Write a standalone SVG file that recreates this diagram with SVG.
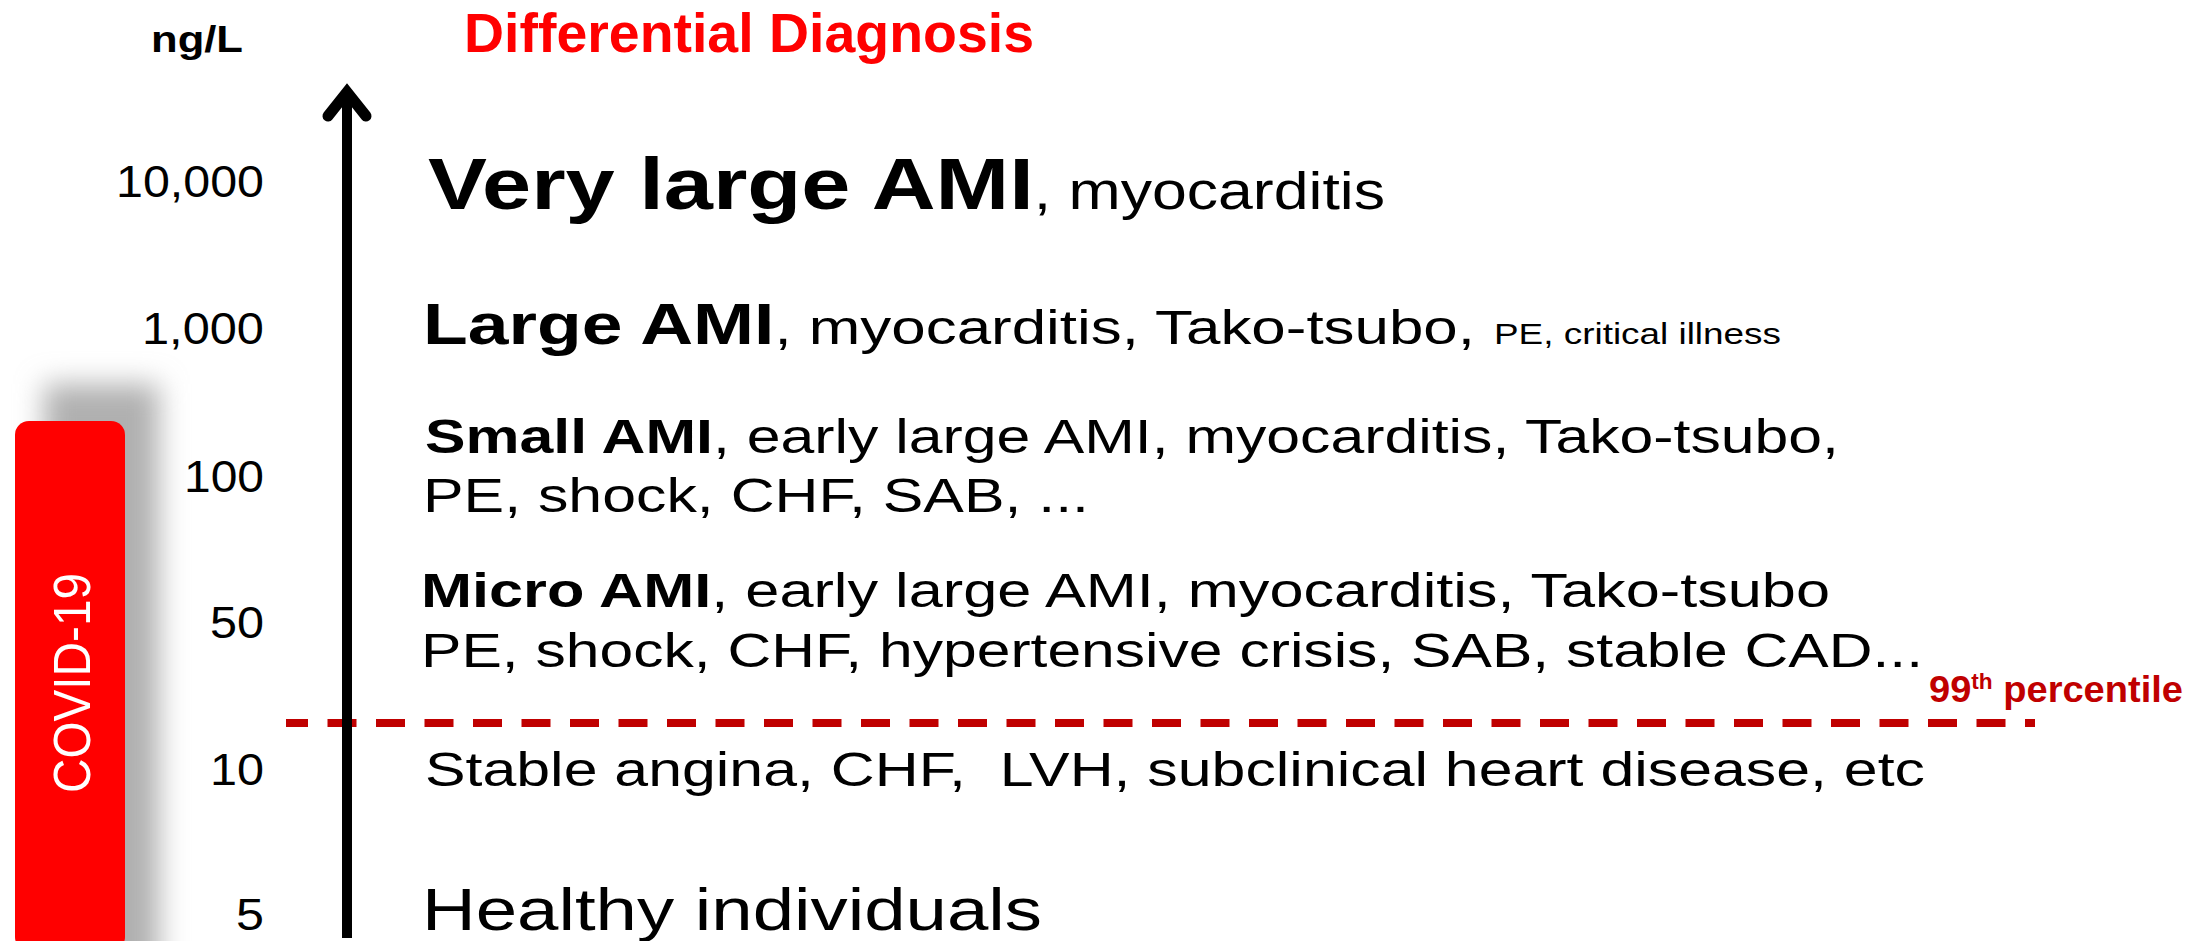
<svg xmlns="http://www.w3.org/2000/svg" width="2207" height="941" viewBox="0 0 2207 941">
<style>
.ax{font-family:"Liberation Sans",Arial,sans-serif;font-size:45px;fill:#000;text-anchor:end}
.row{font-family:"Liberation Sans",Arial,sans-serif;fill:#000}
.b{font-weight:bold}
.hd{font-family:"Liberation Sans",Arial,sans-serif;font-weight:bold}
</style>
<defs>
<filter id="sh" x="-60%" y="-30%" width="220%" height="160%">
<feGaussianBlur stdDeviation="14"/>
</filter>
</defs>
<rect width="2207" height="941" fill="#fff"/>

<g id="header">
<text class="hd" x="151" y="52" font-size="37" textLength="92" lengthAdjust="spacingAndGlyphs" fill="#000">ng/L</text>
<text class="hd" x="464" y="52" font-size="55" textLength="570" lengthAdjust="spacingAndGlyphs" fill="#FF0000">Differential Diagnosis</text>
</g>

<g id="covid-bar">
<rect x="44" y="384" width="115" height="600" fill="#b0b0b0" filter="url(#sh)"/>
<rect x="15" y="421" width="110" height="530" rx="14" ry="14" fill="#FF0000"/>
<text transform="translate(90,793) rotate(-90) scale(1,1.08)" x="0" y="0" font-family="Liberation Sans, Arial, sans-serif" font-size="48" fill="#fff" textLength="220" lengthAdjust="spacingAndGlyphs">COVID-19</text>
</g>

<g id="axis-labels">
<text class="ax" x="264" y="197" textLength="148" lengthAdjust="spacingAndGlyphs">10,000</text>
<text class="ax" x="264" y="344" textLength="122" lengthAdjust="spacingAndGlyphs">1,000</text>
<text class="ax" x="264" y="492" textLength="80" lengthAdjust="spacingAndGlyphs">100</text>
<text class="ax" x="264" y="638" textLength="54" lengthAdjust="spacingAndGlyphs">50</text>
<text class="ax" x="264" y="785" textLength="54" lengthAdjust="spacingAndGlyphs">10</text>
<text class="ax" x="264" y="930" textLength="28" lengthAdjust="spacingAndGlyphs">5</text>
</g>

<g id="connectors">
<line id="percentile-line" x1="286" y1="723" x2="2035" y2="723" stroke="#C00000" stroke-width="8" stroke-dasharray="29 19.5" stroke-dashoffset="7"/>
<g id="axis-arrow" stroke="#000" fill="none">
<line x1="347" y1="100" x2="347" y2="938" stroke-width="10"/>
<polyline points="328,116 347,92 366,116" stroke-width="11" stroke-linecap="round" stroke-linejoin="miter" stroke-miterlimit="10"/>
</g>
</g>

<g id="row-10000">
<text class="row" x="428" y="209" textLength="957" lengthAdjust="spacingAndGlyphs"><tspan class="b" font-size="72">Very large AMI</tspan><tspan font-size="51">, myocarditis</tspan></text>
</g>
<g id="row-1000">
<text class="row" x="423" y="344" textLength="1052" lengthAdjust="spacingAndGlyphs"><tspan class="b" font-size="58">Large AMI</tspan><tspan font-size="49">, myocarditis, Tako-tsubo,</tspan></text>
<text class="row" x="1494" y="344" font-size="30" textLength="287" lengthAdjust="spacingAndGlyphs">PE, critical illness</text>
</g>
<g id="row-100">
<text class="row" x="425" y="453" font-size="49" textLength="1414" lengthAdjust="spacingAndGlyphs"><tspan class="b">Small AMI</tspan>, early large AMI, myocarditis, Tako-tsubo,</text>
<text class="row" x="423" y="512" font-size="49" textLength="666" lengthAdjust="spacingAndGlyphs">PE, shock, CHF, SAB, ...</text>
</g>
<g id="row-50">
<text class="row" x="421" y="607" font-size="49" textLength="1409" lengthAdjust="spacingAndGlyphs"><tspan class="b">Micro AMI</tspan>, early large AMI, myocarditis, Tako-tsubo</text>
<text class="row" x="421" y="667" font-size="49" textLength="1502" lengthAdjust="spacingAndGlyphs">PE, shock, CHF, hypertensive crisis, SAB, stable CAD...</text>
</g>
<g id="percentile-label">
<text class="hd" x="1929" y="702" font-size="37" fill="#C00000" textLength="254" lengthAdjust="spacingAndGlyphs">99<tspan font-size="22" dy="-13">th</tspan><tspan dy="13"> percentile</tspan></text>
</g>
<g id="row-10">
<text class="row" x="425" y="786" font-size="49" textLength="1500" lengthAdjust="spacingAndGlyphs" xml:space="preserve">Stable angina, CHF,  LVH, subclinical heart disease, etc</text>
</g>
<g id="row-5">
<text class="row" x="422" y="930" font-size="60" textLength="620" lengthAdjust="spacingAndGlyphs">Healthy individuals</text>
</g>
</svg>
